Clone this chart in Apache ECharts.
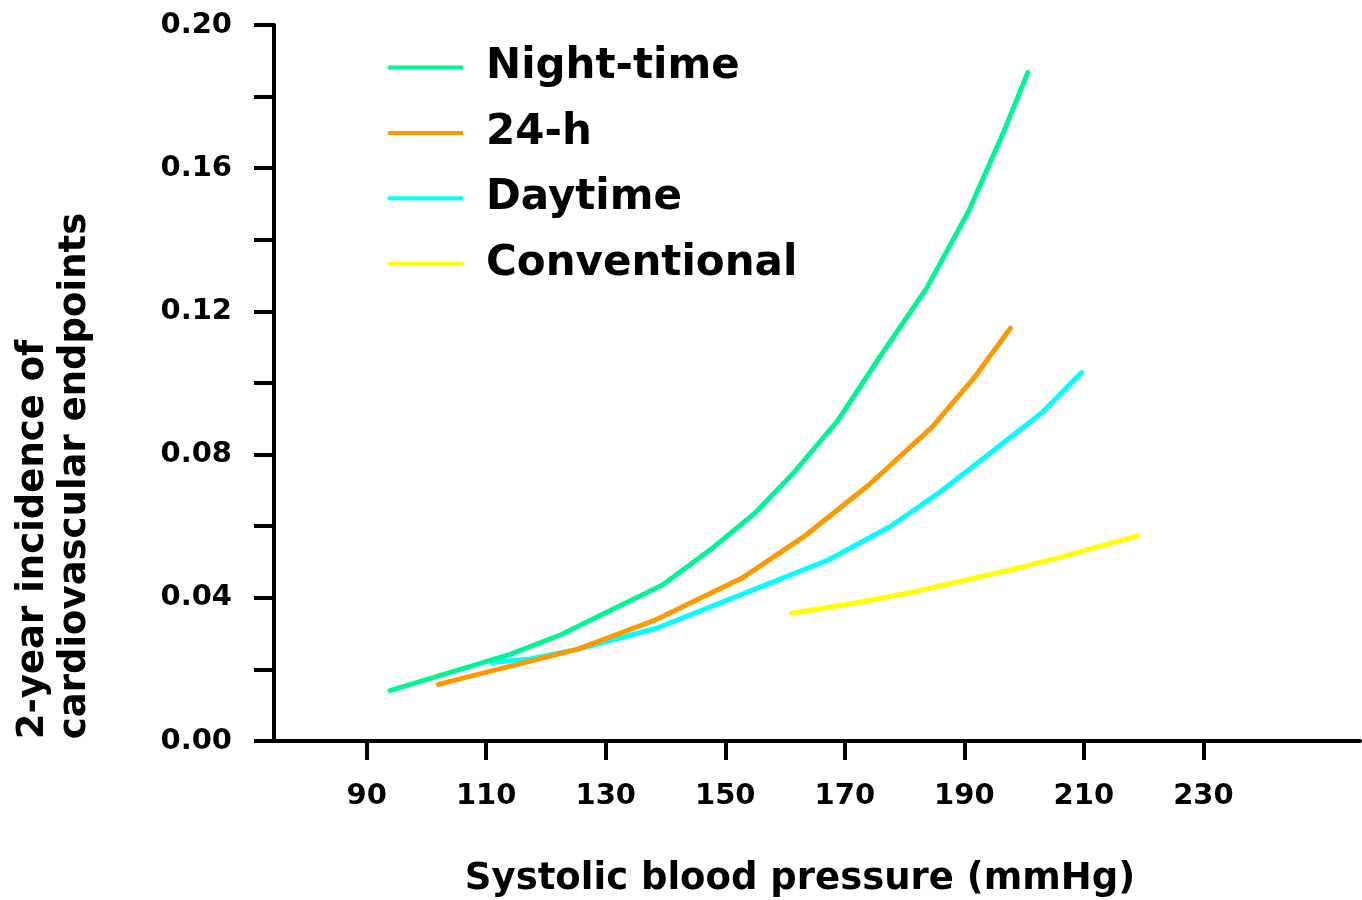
<!DOCTYPE html>
<html>
<head>
<meta charset="utf-8">
<script src="https://cdn.jsdelivr.net/npm/echarts@6/dist/echarts.min.js"></script>
<style>html,body{margin:0;padding:0;background:#fff}#c{width:1362px;height:900px}</style>
</head>
<body>
<div id="c"></div>
<script>
// Series names
const seriesNames = ['Night-time', '24-h', 'Daytime', 'Conventional'];
// Night-time: [systolic BP, incidence]
const nightData = [[93.9,0.0141],[114.0,0.0242],[122.4,0.0296],[139.5,0.0436],[147.5,0.0534],[155.0,0.0637],[161.1,0.0743],[168.7,0.0892],[176.2,0.1081],[183.7,0.1265],[190.7,0.1479],[196.5,0.1698],[200.6,0.1867]];
// 24-h
const h24Data = [[102.0,0.0158],[125.2,0.0256],[138.3,0.0338],[152.8,0.0455],[163.1,0.0570],[174.0,0.0715],[184.6,0.0877],[191.8,0.1018],[197.7,0.1153]];
// Daytime
const dayData = [[110.9,0.0219],[117.3,0.0229],[125.2,0.0256],[138.5,0.0315],[157.5,0.0441],[167.4,0.0507],[177.6,0.0599],[186.0,0.0696],[203.0,0.0917],[209.6,0.1029]];
// Conventional
const convData = [[161.1,0.0357],[172.0,0.0386],[180.9,0.0414],[197.7,0.0478],[206.9,0.0517],[219.0,0.0573]];
// Axis tick labels
const xTickValues = [90,110,130,150,170,190,210,230];
const colors = ['#00F593','#FF9900','#00FFFF','#FFFF00'];

const chart = echarts.init(document.getElementById('c'), null, {renderer:'canvas'});
const FONT = 'DejaVu Sans';
const allData = [nightData, h24Data, dayData, convData];
chart.setOption({
  animation: false,
  backgroundColor: '#fff',
  grid: {left: 274, right: 2, top: 25, bottom: 159, containLabel: false, outerBoundsMode: 'none'},
  legend: {
    orient: 'vertical', left: 383, top: 36.5,
    icon: 'rect', itemWidth: 75, itemHeight: 4, itemGap: 13.4,
    data: seriesNames,
    textStyle: {fontFamily: FONT, fontWeight: 'bold', fontSize: 42, color: '#000', lineHeight: 46, padding: [0,0,6,18]}
  },
  xAxis: {
    type: 'value', min: 74.5, max: 256.2,
    axisLine: {show: true, lineStyle: {color: '#000', width: 4}},
    axisTick: {show: true, length: 19, lineStyle: {color: '#000', width: 4}, customValues: xTickValues},
    axisLabel: {customValues: xTickValues, margin: 41, fontFamily: FONT, fontWeight: 'bold', fontSize: 29, color: '#000'},
    splitLine: {show: false},
    name: 'Systolic blood pressure (mmHg)', nameLocation: 'middle', nameGap: 120,
    nameTextStyle: {fontFamily: FONT, fontWeight: 'bold', fontSize: 37, color: '#000', padding: [0,34,0,0]}
  },
  yAxis: {
    type: 'value', min: 0, max: 0.2, interval: 0.02,
    axisLine: {show: true, lineStyle: {color: '#000', width: 4}},
    axisTick: {show: true, length: 20, lineStyle: {color: '#000', width: 4}},
    axisLabel: {margin: 42, fontFamily: FONT, fontWeight: 'bold', fontSize: 29, color: '#000',
      formatter: v => (Math.round(v*100) % 4 === 0 ? v.toFixed(2) : '')},
    splitLine: {show: false},
    name: '{a|2-year incidence of}\n{b|cardiovascular endpoints}', nameLocation: 'middle', nameRotate: 90, nameGap: 178,
    nameTextStyle: {fontFamily: FONT, fontWeight: 'bold', fontSize: 37, color: '#000', lineHeight: 42, padding: [0,186,0,0],
      rich: {a: {fontFamily: FONT, fontWeight: 'bold', fontSize: 37, lineHeight: 42, align: 'left'},
             b: {fontFamily: FONT, fontWeight: 'bold', fontSize: 37, lineHeight: 42, align: 'left'}}}
  },
  series: allData.map((d, i) => ({
    name: seriesNames[i], type: 'line', data: d, showSymbol: false, symbol: 'none',
    color: colors[i], z: 10 - i,
    lineStyle: {width: 5, color: colors[i], cap: 'round', join: 'round'}
  }))
});
</script>
</body>
</html>
